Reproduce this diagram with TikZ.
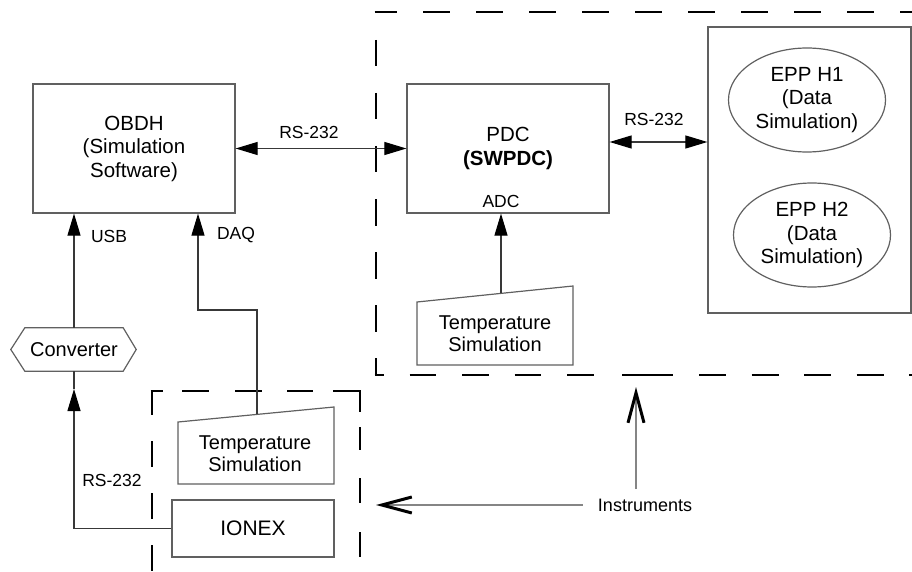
\documentclass[tikz,border=0pt]{standalone}
\usepackage{fontspec}
\setmainfont{Liberation Sans}
\usetikzlibrary{arrows.meta,shapes.geometric,calc}
\definecolor{boxgray}{HTML}{606060}
\definecolor{linegray}{HTML}{383838}
\definecolor{instgray}{HTML}{858585}
\newcommand\bigf{\fontsize{20.5}{23.5}\selectfont}
\newcommand\midf{\fontsize{20}{22}\selectfont}
\newcommand\lblf{\fontsize{17.5}{20}\selectfont}
\begin{document}
\begin{tikzpicture}[x=1pt,y=-1pt,
  box/.style={draw=boxgray,line width=1.2pt,inner sep=0pt,align=center,font=\bigf},
  shapeline/.style={draw=boxgray,line width=1.2pt},
  txt/.style={inner sep=0pt,align=center,font=\midf},
  lbl/.style={inner sep=0pt,font=\lblf},
  conn/.style={draw=linegray,line width=1.1pt},
  tri/.style={-{Triangle[length=22pt,width=13pt,color=black]}},
  ditri/.style={{Triangle[length=22pt,width=13pt,color=black]}-{Triangle[length=22pt,width=13pt,color=black]}},
  barb/.style={-{Straight Barb[length=30pt,width=16pt,line width=3pt,color=black]}},
  instl/.style={draw=instgray,line width=1.1pt},
  dsh/.style={draw=black,line width=2.6pt},
]
\useasboundingbox (0,0) rectangle (912,572);
\clip (0,0) rectangle (912,572);

% dashed boundaries
\draw[dsh,dash pattern=on 26.5pt off 26.5pt,dash phase=4.5pt] (374.7,12) -- (935,12);
\draw[dsh,dash pattern=on 26.5pt off 26.5pt,dash phase=25pt] (376,12) -- (376,375);
\draw[dsh,dash pattern=on 26.5pt off 26pt,dash phase=17.5pt] (374.7,375) -- (600,375);
\draw[dsh] (622,375) -- (673,375);
\draw[dsh,dash pattern=on 27pt off 25.5pt] (699,375) -- (935,375);

\draw[dsh,dash pattern=on 24pt off 26pt on 26pt off 26pt on 26pt off 26pt on 26pt off 100pt] (152,391) -- (152,580);
\draw[dsh,dash pattern=on 12.3pt off 19pt on 27pt off 26pt on 27pt off 25pt on 26pt off 20pt on 28.3pt off 10pt] (150.7,391) -- (361.3,391);
\draw[dsh,dash pattern=on 21pt off 15pt on 23pt off 28pt on 25pt off 29pt on 25pt off 100pt] (360,391) -- (360,580);

% boxes
\node[box,minimum width=202pt,minimum height=129pt] (obdh) at (134,148.5) {OBDH\\(Simulation\\Software)};
\node[box,font=\fontsize{20.5}{24}\selectfont,minimum width=202pt,minimum height=129pt] (pdc) at (508,148.5) {PDC\\\textbf{(SWPDC)}};
\node[lbl] (adc) at (501,201) {ADC};
\node[shapeline,inner sep=0pt,minimum width=203pt,minimum height=286pt] (epp) at (809.5,170) {};
\node[box,ellipse,minimum width=157pt,minimum height=104pt] (h1) at (807,100) {EPP H1\\(Data\\Simulation)};
\node[box,ellipse,minimum width=157pt,minimum height=104pt] (h2) at (812,235) {EPP H2\\(Data\\Simulation)};

% converter
\node[txt,minimum width=98pt,minimum height=43pt] (conv) at (74,349.5) {Converter};
\draw[shapeline] (conv.north west) -- (conv.north east) -- ($(conv.east)+(13,0)$) -- (conv.south east) -- (conv.south west) -- ($(conv.west)+(-14,0)$) -- cycle;

% temperature simulations
\node[txt] (ts1) at (495,334) {Temperature\\Simulation};
\draw[shapeline] (417,302) -- (573,286) -- (573,365) -- (417,365) -- cycle;
\node[txt] (ts2) at (255,453.5) {Temperature\\Simulation};
\draw[shapeline] (178,422) -- (334,407) -- (334,484) -- (178,484) -- cycle;

% IONEX
\node[box,font=\fontsize{21}{23}\selectfont,minimum width=162pt,minimum height=57pt] (ionex) at (253,528.5) {IONEX};

% labels
\node[lbl] (rs1) at (309,132) {RS-232};
\node[lbl] (rs2) at (654,119) {RS-232};
\node[lbl] (rs3) at (112,480) {RS-232};
\node[lbl] (usb) at (109,236) {USB};
\node[lbl] (daq) at (236,235) {DAQ};
\node[lbl,font=\fontsize{18}{20}\selectfont] (inst) at (645,505) {Instruments};

% connectors
\draw[conn,ditri] (obdh.east) -- (pdc.west);
\draw[conn,ditri] ($(pdc.east)+(0,-6.5)$) -- ($(epp.west |- pdc.east)+(0,-6.5)$);
\coordinate (t1top) at (501,293.4);
\draw[conn,tri] (t1top) -- (t1top |- pdc.south);
\draw[conn,tri] (conv.north) -- (conv.north |- obdh.south);
\coordinate (t2top) at (257,414.4);
\coordinate (daqx) at (198,310);
\draw[conn,tri] (t2top) |- (daqx) -- (daqx |- obdh.south);
\coordinate (convtip) at (74,389);
\draw[conn,tri] (ionex.west) -| (convtip);
\draw[conn] (convtip) -- (conv.south);

% instruments
\coordinate (instL) at (376,505);
\draw[instl,barb] ($(inst.west)+(-15,0)$) -- (instL);
\coordinate (upS) at (636,489);
\coordinate (upT) at (636,387);
\draw[instl,barb] (upS) -- (upT);
\end{tikzpicture}
\end{document}
